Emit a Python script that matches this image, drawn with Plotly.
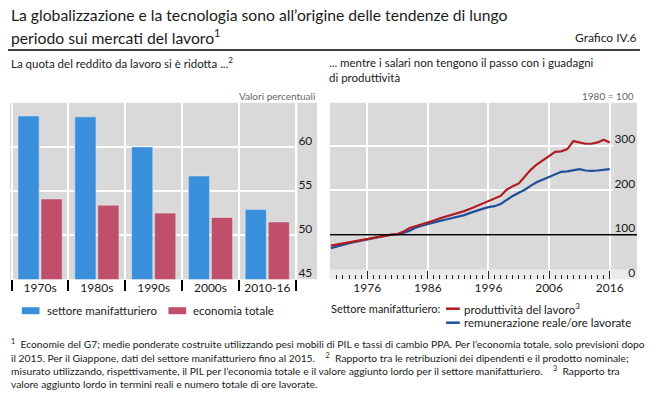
import plotly.graph_objects as go

# The page keeps the browser's default 8px body margin, so the figure is made
# 16px smaller than the window and all positions below are given in window pixels.
OFF = 8
FW, FH = 656 - 2 * OFF, 399 - 2 * OFF


def px(x):
    return (x - OFF) / FW


def py(y):
    return 1 - (y - OFF) / FH


# ---- data ----
decades = ["1970s", "1980s", "1990s", "2000s", "2010-16"]
manuf_share = [63.5, 63.4, 60.0, 56.7, 52.9]
total_share = [54.1, 53.4, 52.5, 52.0, 51.5]
share_ticks = [45, 50, 55, 60]
share_range = [45, 65]

years = list(range(1970, 2017))
productivity = [75.6, 78, 81.5, 84, 86.7, 89, 91, 93, 96, 98,
                100, 101.5, 107, 115, 119, 123, 127, 132, 137, 141,
                144, 148, 153, 158, 164, 170, 176, 181, 187, 201,
                209, 215, 230, 246, 258, 267, 276, 286, 287, 292,
                310, 307, 304, 304, 307, 313, 307]
remuneration = [70, 74, 78, 81, 84, 87, 90, 92, 95, 97,
                100, 101, 104, 109, 116, 120, 124, 128, 131, 134,
                137, 140, 144, 149, 154, 158, 162, 164, 169, 179,
                187, 194, 201, 210, 218, 224, 230, 236, 241, 242,
                244, 247, 244, 243, 244, 246, 247]
year_ticks = [1976, 1986, 1996, 2006, 2016]
index_ticks = [0, 100, 200, 300]
index_range = [0, 396]

BLUE = "#3a8fdb"
RED = "#c04f6b"
LINE_RED = "#b01c22"
LINE_BLUE = "#1f4f9c"
GREY = "#d9d9d9"
LIGHT = "#ebebeb"
TXT = "#1a1a1a"
FONT = "Lato, 'Open Sans', sans-serif"

PLOT_TOP, PLOT_BOT = 103, 280
LABEL_LIFT = 6.5  # tick labels sit just above their gridlines
plot_h = PLOT_BOT - PLOT_TOP
d1 = LABEL_LIFT * (share_range[1] - share_range[0]) / plot_h
d2 = LABEL_LIFT * (index_range[1] - index_range[0]) / plot_h

fig = go.Figure()
cat_x = list(range(len(decades)))
fig.add_trace(go.Bar(x=cat_x, y=manuf_share, marker_color=BLUE, name="settore manifatturiero",
                     xaxis="x", yaxis="y", showlegend=False))
fig.add_trace(go.Bar(x=cat_x, y=total_share, marker_color=RED, name="economia totale",
                     xaxis="x", yaxis="y", showlegend=False))
fig.add_trace(go.Scatter(x=years, y=remuneration, mode="lines", line=dict(color=LINE_BLUE, width=2.2),
                         xaxis="x2", yaxis="y2", showlegend=False))
fig.add_trace(go.Scatter(x=years, y=productivity, mode="lines", line=dict(color=LINE_RED, width=2.2),
                         xaxis="x2", yaxis="y2", showlegend=False))
# invisible carriers for the tick-label axes
fig.add_trace(go.Scatter(x=cat_x, y=manuf_share, mode="markers", marker=dict(opacity=0),
                         xaxis="x", yaxis="y3", showlegend=False, hoverinfo="skip"))
fig.add_trace(go.Scatter(x=years, y=productivity, mode="markers", marker=dict(opacity=0),
                         xaxis="x2", yaxis="y4", showlegend=False, hoverinfo="skip"))

shapes = []
# label zone backgrounds
shapes.append(dict(type="rect", xref="paper", yref="paper", x0=px(302), x1=px(322), y0=py(PLOT_BOT), y1=py(PLOT_TOP),
                   fillcolor=GREY, line_width=0, layer="below"))
shapes.append(dict(type="rect", xref="paper", yref="paper", x0=px(623), x1=px(647), y0=py(PLOT_BOT), y1=py(PLOT_TOP),
                   fillcolor=GREY, line_width=0, layer="below"))
# lighter band at the bottom of the right panel
shapes.append(dict(type="rect", xref="paper", yref="y2", x0=px(335), x1=px(647), y0=0, y1=22,
                   fillcolor=LIGHT, line_width=0, layer="below"))
# 100 reference line
shapes.append(dict(type="line", xref="paper", yref="y2", x0=px(335), x1=px(647), y0=100, y1=100,
                   line=dict(color="black", width=1.5)))
# title rule
shapes.append(dict(type="line", xref="paper", yref="paper", x0=px(8), x1=px(650), y0=py(50), y1=py(50),
                   line=dict(color="black", width=1.5)))
# legend swatches
shapes.append(dict(type="rect", xref="paper", yref="paper", x0=px(22), x1=px(40), y0=py(315), y1=py(308),
                   fillcolor=BLUE, line_width=0))
shapes.append(dict(type="rect", xref="paper", yref="paper", x0=px(171), x1=px(189), y0=py(315), y1=py(308),
                   fillcolor=RED, line_width=0))
shapes.append(dict(type="line", xref="paper", yref="paper", x0=px(453), x1=px(467), y0=py(309.5), y1=py(309.5),
                   line=dict(color=LINE_RED, width=2.5)))
shapes.append(dict(type="line", xref="paper", yref="paper", x0=px(453), x1=px(467), y0=py(323.5), y1=py(323.5),
                   line=dict(color=LINE_BLUE, width=2.5)))

ann = []


def text(x, y, s, size, anchor="left", color=TXT):
    ann.append(dict(xref="paper", yref="paper", x=px(x), y=py(y), text=s, showarrow=False,
                    xanchor=anchor, yanchor="middle", font=dict(size=size, color=color, family=FONT)))


text(9, 15, "La globalizzazione e la tecnologia sono all’origine delle tendenze di lungo", 15.7)
text(9, 37, "periodo sui mercati del lavoro<sup>1</sup>", 15.7)
text(649, 38, "Grafico IV.6", 12, anchor="right")
text(9, 63, "La quota del reddito da lavoro si è ridotta ...<sup>2</sup>", 11.5)
text(332, 63, "... mentre i salari non tengono il passo con i guadagni", 11.5)
text(332, 78, "di produttività", 11.5)
text(322, 96, "Valori percentuali", 10, anchor="right", color="#666666")
text(646, 96, "1980 = 100", 10, anchor="right", color="#666666")
text(46, 311.5, "settore manifatturiero", 11.5)
text(194, 311.5, "economia totale", 11.5)
text(449, 309.5, "Settore manifatturiero:", 11, anchor="right")
text(469, 309.5, "produttività del lavoro<sup>3</sup>", 11.5)
text(469, 323.5, "remunerazione reale/ore lavorate", 11.5)

FN = 10.3
text(9, 344, "<sup>1</sup>  Economie del G7; medie ponderate costruite utilizzando pesi mobili di PIL e tassi di cambio PPA. Per l’economia totale, solo previsioni dopo", FN)
text(9, 358, "il 2015. Per il Giappone, dati del settore manifatturiero fino al 2015.    <sup>2</sup>  Rapporto tra le retribuzioni dei dipendenti e il prodotto nominale;", FN)
text(9, 371, "misurato utilizzando, rispettivamente, il PIL per l’economia totale e il valore aggiunto lordo per il settore manifatturiero.    <sup>3</sup>  Rapporto tra", FN)
text(9, 385, "valore aggiunto lordo in termini reali e numero totale di ore lavorate.", FN)

ydom = [py(PLOT_BOT), py(PLOT_TOP)]
index_text = [f"{v:\u2007>3}" for v in index_ticks]

fig.update_layout(
    width=FW, height=FH,
    margin=dict(l=0, r=0, t=0, b=0),
    paper_bgcolor="white",
    plot_bgcolor=GREY,
    barmode="group", bargap=0.19, bargroupgap=0.08,
    font=dict(family=FONT, color=TXT, size=12),
    shapes=shapes,
    annotations=ann,
    xaxis=dict(domain=[px(10), px(302)], range=[-0.53, 4.53], tickvals=cat_x, ticktext=decades,
               ticks="", showgrid=False, zeroline=False, tickfont=dict(size=12),
               minor=dict(tickvals=[-0.5, 0.5, 1.5, 2.5, 3.5, 4.5], ticks="outside", ticklen=11,
                          tickcolor="black", tickwidth=1.5, showgrid=True, gridcolor="white", gridwidth=1.5)),
    yaxis=dict(domain=ydom, range=share_range, side="right", tickvals=share_ticks,
               showgrid=True, gridcolor="white", gridwidth=1.5, zeroline=False, ticks="",
               showticklabels=False, anchor="x"),
    yaxis3=dict(overlaying="y", range=[share_range[0] - d1, share_range[1] - d1], side="right",
                tickvals=share_ticks, showgrid=False, zeroline=False, ticks="", anchor="x",
                tickfont=dict(size=12), ticklabeloverflow="allow"),
    xaxis2=dict(domain=[px(335), px(623)], range=[1969.84, 2016.6], tickvals=year_ticks,
                ticks="inside", ticklen=8, tickcolor="#222222", tickwidth=1.2,
                showgrid=True, gridcolor="white", gridwidth=1.5, zeroline=False, tickfont=dict(size=12),
                anchor="y2",
                minor=dict(tickvals=years, ticks="inside", ticklen=4, tickcolor="#222222", tickwidth=1,
                           showgrid=False)),
    yaxis2=dict(domain=ydom, range=index_range, side="right", tickvals=index_ticks,
                showgrid=True, gridcolor="white", gridwidth=1.5, zeroline=False, ticks="",
                showticklabels=False, anchor="x2"),
    yaxis4=dict(overlaying="y2", range=[index_range[0] - d2, index_range[1] - d2], side="right",
                tickvals=index_ticks, ticktext=index_text, showgrid=False, zeroline=False, ticks="",
                anchor="x2", tickfont=dict(size=12), ticklabeloverflow="allow"),
)

fig.write_html("out.html", config={"displayModeBar": False})
